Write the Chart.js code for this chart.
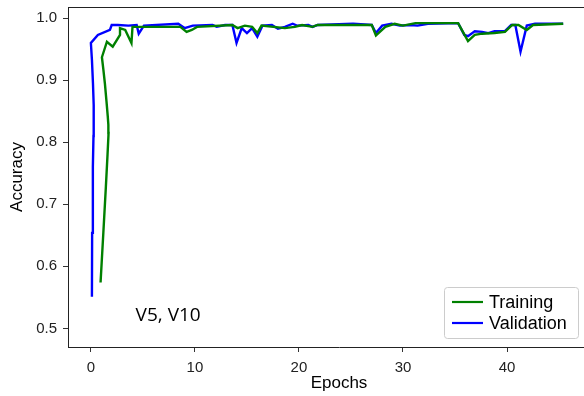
<!DOCTYPE html>
<html>
<head>
<meta charset="utf-8">
<script src="https://cdn.jsdelivr.net/npm/chart.js@4.4.1/dist/chart.umd.min.js"></script>
<style>
  html, body { margin: 0; padding: 0; overflow: hidden; background: #fff; }
  canvas { display: block; }
</style>
</head>
<body>
<canvas id="accuracy-chart" width="612" height="396"></canvas>
<script>
// values (epoch, accuracy)
const trainEpochs = [0.93, 1.2, 1.44, 1.6, 1.7, 1.68, 1.62, 1.5, 1.35, 1.2, 1.06, 1.54, 2.1, 2.8, 2.8, 3.3, 3.9, 4.0,
  8.6, 9.2, 9.7, 10.2, 13.6, 14.1, 14.8, 15.5, 16.0, 16.4, 18.65, 19.6, 20.3, 21.3, 21.8, 25.2,
  27.0, 27.4, 28.3, 29.2, 30.0, 31.2, 35.3, 36.25, 36.9, 37.6, 38.8, 39.8, 40.5, 41.1, 41.9, 42.5, 45.4];
const trainAcc = [0.574, 0.655, 0.728, 0.78, 0.815, 0.828, 0.842, 0.866, 0.894, 0.917, 0.937, 0.962, 0.954, 0.973, 0.984, 0.981, 0.96, 0.986,
  0.986, 0.978, 0.981, 0.986, 0.989, 0.984, 0.988, 0.986, 0.976, 0.988, 0.984, 0.986, 0.989, 0.986, 0.989, 0.989,
  0.989, 0.972, 0.986, 0.991, 0.988, 0.992, 0.992, 0.963, 0.973, 0.975, 0.976, 0.978, 0.989, 0.989, 0.981, 0.989, 0.991];

const valEpochs = [0.1, 0.12, 0.19, 0.25, 0.28, 0.26, 0.2, 0.1, 0.0, 0.67, 1.83, 2.0, 2.6, 3.6, 4.4, 4.6, 5.1,
  8.4, 9.0, 9.8, 11.7, 12.1, 12.9, 13.6, 14.0, 14.5, 15.0, 15.5, 16.0, 16.5, 17.4, 17.98, 18.65,
  19.4, 19.8, 20.9, 21.3, 21.8, 25.2, 27.0, 27.4, 28.0, 28.9, 29.7, 30.7, 31.4, 32.4, 35.3, 35.9,
  36.25, 36.9, 37.6, 38.2, 38.8, 39.8, 40.4, 40.8, 41.3, 41.9, 42.7, 45.4];
const valAcc = [0.551, 0.654, 0.76, 0.81, 0.836, 0.86, 0.895, 0.933, 0.96, 0.973, 0.981, 0.989, 0.989, 0.988, 0.989, 0.975, 0.988,
  0.991, 0.984, 0.988, 0.989, 0.986, 0.989, 0.989, 0.96, 0.984, 0.976, 0.984, 0.97, 0.988, 0.989, 0.983, 0.986,
  0.991, 0.988, 0.989, 0.986, 0.989, 0.991, 0.989, 0.976, 0.988, 0.991, 0.988, 0.989, 0.988, 0.991, 0.992, 0.973,
  0.971, 0.979, 0.978, 0.976, 0.979, 0.979, 0.989, 0.989, 0.946, 0.988, 0.991, 0.991];

const xTicks = [0, 10, 20, 30, 40];
const yTicks = [0.5, 0.6, 0.7, 0.8, 0.9, 1.0];
const seriesLabels = ["Training", "Validation"];
const note = "V5, V10";

const toPoints = (xs, ys) => xs.map((x, i) => ({ x, y: ys[i] }));

const font = "'Liberation Sans', Arial, sans-serif";

// matplotlib-like legend box in the lower right
const legendBox = {
  id: "legendBox",
  afterDraw(chart) {
    const { ctx, chartArea } = chart;
    const w = 134, h = 51;
    const x0 = chartArea.right - 32 - w;
    const y0 = chartArea.bottom - 9 - h;
    ctx.save();
    ctx.fillStyle = "rgba(255,255,255,0.8)";
    ctx.strokeStyle = "#cccccc";
    ctx.lineWidth = 1;
    ctx.beginPath();
    ctx.roundRect(x0 + 0.5, y0 + 0.5, w, h, 3);
    ctx.fill();
    ctx.stroke();
    ctx.font = "18px " + font;
    ctx.textBaseline = "middle";
    chart.data.datasets.forEach((ds, i) => {
      const y = y0 + 15 + i * 21;
      ctx.strokeStyle = ds.borderColor;
      ctx.lineWidth = 2.2;
      ctx.beginPath();
      ctx.moveTo(x0 + 8, y);
      ctx.lineTo(x0 + 39, y);
      ctx.stroke();
      ctx.fillStyle = "#000";
      ctx.fillText(ds.label, x0 + 45, y + 1);
    });
    ctx.restore();
  },
};

// top spine and the "V5, V10" note
const extras = {
  id: "extras",
  afterDraw(chart) {
    const { ctx, chartArea, scales } = chart;
    ctx.save();
    ctx.strokeStyle = "#222";
    ctx.lineWidth = 1;
    ctx.beginPath();
    ctx.moveTo(chartArea.left, chartArea.top + 0.5);
    ctx.lineTo(chartArea.right, chartArea.top + 0.5);
    ctx.stroke();
    ctx.fillStyle = "#000";
    ctx.font = "19px 'Open Sans', sans-serif";
    ctx.textBaseline = "middle";
    ctx.fillText(note, scales.x.getPixelForValue(4.3), scales.y.getPixelForValue(0.52));
    ctx.restore();
  },
};

const ctx = document.getElementById("accuracy-chart");

new Chart(ctx, {
  type: "scatter",
  data: {
    datasets: [
      {
        label: seriesLabels[0],
        data: toPoints(trainEpochs, trainAcc),
        showLine: true,
        borderColor: "#008000",
        borderWidth: 2.4,
        pointRadius: 0,
        tension: 0,
      },
      {
        label: seriesLabels[1],
        data: toPoints(valEpochs, valAcc),
        showLine: true,
        borderColor: "#0000ff",
        borderWidth: 2.4,
        pointRadius: 0,
        tension: 0,
      },
    ],
  },
  options: {
    responsive: false,
    animation: false,
    devicePixelRatio: 1,
    layout: { padding: { left: 0, top: 7, right: 2, bottom: 0 } },
    plugins: {
      legend: { display: false },
      tooltip: { enabled: false },
    },
    scales: {
      x: {
        type: "linear",
        min: -2.2,
        max: 49.9,
        afterBuildTicks: (s) => { s.ticks = xTicks.map((v) => ({ value: v })); },
        afterFit: (s) => { s.height = 49; s.paddingLeft = 0; s.paddingRight = 0; },
        grid: { drawOnChartArea: false, tickLength: 5, color: "#333" },
        border: { color: "#222", width: 1 },
        ticks: {
          autoSkip: false,
          maxRotation: 0,
          padding: 7,
          color: "#222",
          font: { family: font, size: 15 },
        },
        title: {
          display: true,
          text: "Epochs",
          color: "#000",
          font: { family: font, size: 17 },
          padding: { top: 0, bottom: 2 },
        },
      },
      y: {
        min: 0.47,
        max: 1.018,
        afterBuildTicks: (s) => { s.ticks = yTicks.map((v) => ({ value: v })); },
        afterFit: (s) => { s.width = 68; s.paddingTop = 0; s.paddingBottom = 0; },
        grid: { drawOnChartArea: false, tickLength: 5, color: "#333" },
        border: { color: "#222", width: 1 },
        ticks: {
          padding: 6,
          color: "#222",
          font: { family: font, size: 15 },
          callback: (v) => v.toFixed(1),
        },
        title: {
          display: true,
          text: "Accuracy",
          color: "#000",
          font: { family: font, size: 17 },
          padding: { top: 7, bottom: 0 },
        },
      },
    },
  },
  plugins: [legendBox, extras],
});
</script>
</body>
</html>
